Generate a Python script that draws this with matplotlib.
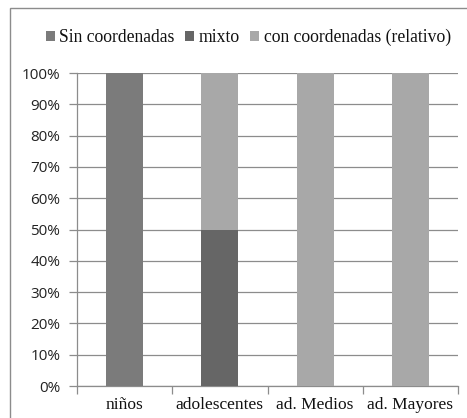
import matplotlib.pyplot as plt
import numpy as np
from matplotlib.patches import Rectangle

# Data (percentages)
categories = ['niños', 'adolescentes', 'ad. Medios', 'ad. Mayores']
sin_coord = [100, 0, 0, 0]
mixto = [0, 50, 0, 0]
con_coord = [0, 50, 100, 100]

series_names = ['Sin coordenadas', 'mixto', 'con coordenadas (relativo)']
colors = ['#7b7b7b', '#666666', '#a8a8a8']

fig = plt.figure(figsize=(4.67, 4.18), dpi=100)
ax = fig.add_axes([77 / 467, 1 - 386 / 418, (458 - 77) / 467, (386 - 73) / 418])

# outer frame of the chart area
fig.patches.append(Rectangle((10 / 467, -0.1), 1.2, 1 - 8 / 418 + 0.1,
                             transform=fig.transFigure, fill=False,
                             edgecolor='#8c8c8c', linewidth=1.0))

x = np.arange(len(categories))
width = 0.39
bottom = np.zeros(len(categories))
for name, vals, c in zip(series_names, [sin_coord, mixto, con_coord], colors):
    ax.bar(x, vals, width, bottom=bottom, color=c, label=name, zorder=3)
    bottom += np.array(vals)

ax.set_xlim(-0.5, len(categories) - 0.5)
ax.set_ylim(0, 100)
ax.set_yticks(np.arange(0, 101, 10))
ax.set_yticklabels([f'{v}%' for v in range(0, 101, 10)],
                   fontfamily='Open Sans', fontsize=11, color='#222222')
ax.yaxis.grid(True, color='#8c8c8c', linewidth=0.9, zorder=0)

ax.set_xticks(x)
ax.set_xticklabels(categories, fontfamily='Liberation Serif', fontsize=12.5, color='#111111')
ax.set_xticks(np.arange(-0.5, len(categories) + 0.5, 1), minor=True)
ax.tick_params(axis='x', which='major', length=0, pad=8)
ax.tick_params(axis='x', which='minor', length=6, color='#8c8c8c', width=0.9)
ax.tick_params(axis='y', length=6, color='#8c8c8c', width=0.9, pad=6)

for s in ['top', 'right']:
    ax.spines[s].set_visible(False)
for s in ['left', 'bottom']:
    ax.spines[s].set_color('#8c8c8c')
    ax.spines[s].set_linewidth(0.9)

ax.legend(loc='lower center', bbox_to_anchor=(0.5 - 0.05, 1.035), ncol=3, frameon=False,
          prop={'family': 'Liberation Serif', 'size': 12.7},
          handlelength=0.5, handleheight=0.5, handletextpad=0.25, columnspacing=0.6,
          labelcolor='#111111')

fig.savefig('out.png', dpi=100)
